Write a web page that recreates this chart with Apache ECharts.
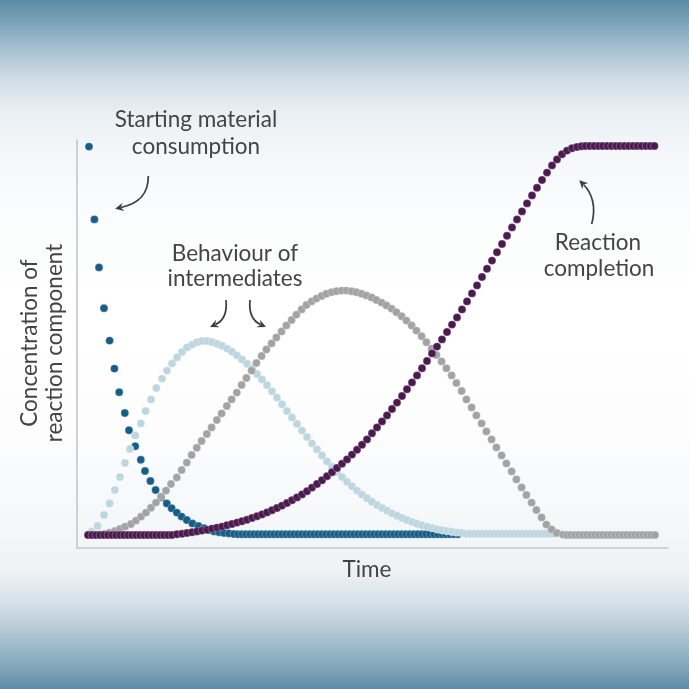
<!DOCTYPE html>
<html>
<head>
<meta charset="utf-8">
<script src="https://cdn.jsdelivr.net/npm/echarts@6/dist/echarts.min.js"></script>
<style>
html,body{margin:0;padding:0;width:689px;height:689px;overflow:hidden;}
#c{width:689px;height:689px;}
</style>
</head>
<body>
<div id="c"></div>
<script>
// [time, concentration] (arbitrary units)
const startingMaterial = [
[0.25,97.1],[1.6,78.9],[2.75,66.9],[4.0,56.7],[5.4,48.6],[6.6,41.6],[7.8,35.7],[9.2,30.5],[10.25,26.2],[11.8,22.2],
[13.2,18.8],[14.25,16.0],[15.6,13.5],[16.9,11.25],[18.3,9.4],[19.7,7.9],[20.9,6.7],[22.2,5.6],[23.4,4.6],[24.7,3.75],
[26.1,2.9],[27.6,2.25],[29.0,1.7],[30.25,1.25],[31.5,0.9],[32.75,0.7],[34.0,0.5],[35.25,0.4],[36.5,0.25],
[37.5,0.2],[38.5,0.2],[39.5,0.2],[40.5,0.2],[41.5,0.2],[42.5,0.2],[43.5,0.2],[44.5,0.2],[45.5,0.2],[46.5,0.2],
[47.5,0.2],[48.5,0.2],[49.5,0.2],[50.5,0.2],[51.5,0.2],[52.5,0.2],[53.5,0.2],[54.5,0.2],[55.5,0.2],[56.5,0.2],
[57.5,0.2],[58.5,0.2],[59.5,0.2],[60.5,0.2],[61.5,0.2],[62.5,0.2],[63.5,0.2],[64.5,0.2],[65.5,0.2],[66.5,0.2],
[67.5,0.2],[68.5,0.2],[69.5,0.2],[70.5,0.2],[71.5,0.2],[72.5,0.2],[73.5,0.2],[74.5,0.2],[75.5,0.2],[76.5,0.2],
[77.5,0.2],[78.5,0.2],[79.5,0.2],[80.5,0.2],[81.5,0.2],[82.5,0.2],[83.5,0.2],[84.5,0.2],[85.5,0.2],[86.5,0.2],
[87.5,0.2],[88.5,0.2],[89.5,0.2],[90.5,0.2],[91.5,0.2],[92.5,0.2]
];
const intermediateA = [
[0.9,0.8],[2.4,2.25],[4.0,5.0],[5.4,7.9],[6.7,11.25],[8.0,14.5],[9.25,18.0],[10.5,21.5],[11.8,24.9],[13.2,27.9],
[14.4,31.0],[15.75,33.9],[17.1,36.75],[18.5,39.1],[19.75,41.1],[21.0,42.9],[22.25,44.4],[23.5,45.75],[24.75,46.9],[26.0,47.6],
[27.25,48.2],[28.5,48.5],[29.75,48.5],[31.0,48.25],[32.25,47.8],[33.5,47.3],[34.75,46.6],[36.0,45.8],[37.25,44.9],[38.5,43.9],
[39.75,42.8],[41.0,41.6],[42.25,40.25],[43.5,38.9],[44.75,37.45],[46.0,35.9],[47.25,34.35],[48.5,32.7],[49.75,31.0],[51.0,29.4],
[52.25,27.75],[53.5,26.1],[54.75,24.5],[56.0,22.9],[57.25,21.4],[58.5,19.9],[59.75,18.4],[61.0,17.05],[62.25,15.75],[63.5,14.5],
[64.75,13.3],[66.0,12.2],[67.25,11.1],[68.5,10.1],[69.75,9.2],[71.0,8.3],[72.25,7.5],[73.5,6.75],[74.75,6.05],[76.0,5.4],
[77.25,4.8],[78.5,4.25],[79.75,3.75],[81.0,3.25],[82.25,2.8],[83.5,2.4],[84.75,2.1],[86.0,1.75],[87.25,1.45],[88.5,1.2],
[89.75,1.0],[91.0,0.8],[92.25,0.65],[93.5,0.5],
[94.5,0.3],[95.5,0.3],[96.5,0.3],[97.5,0.3],[98.5,0.3],[99.5,0.3],[100.5,0.3],[101.5,0.3],[102.5,0.3],[103.5,0.3],
[104.5,0.3],[105.5,0.3],[106.5,0.3],[107.5,0.3],[108.5,0.3],[109.5,0.3],[110.5,0.3],[111.5,0.3],[112.5,0.3],[113.5,0.3],
[114.5,0.3],[115.5,0.3],[116.5,0.3]
];
const intermediateB = [
[0.25,0],[1.5,0],[2.75,0.1],[4.0,0.25],[5.3,0.6],[6.75,1.0],[8.0,1.5],[9.25,2.1],[10.75,2.75],[12.0,3.6],
[13.25,4.6],[14.5,5.6],[15.75,6.8],[17.0,8.1],[18.25,9.6],[19.5,11.1],[20.75,12.75],[22.2,14.4],[23.4,16.25],[24.7,18.1],
[25.9,20.0],[27.2,21.8],[28.4,23.5],[29.7,25.25],[30.9,26.9],[32.2,28.75],[33.4,30.4],[34.7,32.25],[35.9,33.9],[37.2,35.6],
[38.4,37.5],[39.6,39.25],[40.9,41.1],[42.1,43.0],[43.4,44.75],[44.6,46.4],[45.9,47.9],[47.1,49.4],[48.4,50.9],[49.6,52.4],
[50.9,53.75],[52.1,55.1],[53.4,56.4],[54.6,57.5],[55.9,58.4],[57.1,59.1],[58.4,59.75],[59.6,60.3],[60.9,60.7],[62.1,60.95],
[63.4,61.1],[64.6,61.1],[65.9,60.95],[67.1,60.7],[68.4,60.3],[69.6,59.9],[70.9,59.4],[72.1,58.75],[73.4,58.1],[74.6,57.4],
[75.9,56.6],[77.1,55.7],[78.4,54.7],[79.6,53.6],[80.9,52.4],[82.1,51.1],[83.4,49.7],[84.6,48.2],[85.9,46.6],[87.1,45.0],
[88.4,43.4],[89.6,41.7],[90.9,39.9],[92.1,38.0],[93.4,36.0],[94.6,33.9],[95.9,31.9],[97.1,29.9],[98.4,27.9],[99.6,25.9],
[100.9,23.9],[102.1,21.9],[103.4,19.9],[104.6,17.9],[105.9,15.9],[107.1,13.9],[108.4,11.9],[109.6,10.0],[110.9,8.1],[112.1,6.25],
[113.4,4.4],[114.6,2.6],[115.9,1.4],[117.25,0.5],[118.75,0.1],
[119.75,0],[120.75,0],[121.75,0],[122.75,0],[123.75,0],[124.75,0],[125.75,0],[126.75,0],[127.75,0],[128.75,0],
[129.75,0],[130.75,0],[131.75,0],[132.75,0],[133.75,0],[134.75,0],[135.75,0],[136.75,0],[137.75,0],[138.75,0],
[139.75,0],[140.75,0],[141.75,0]
];
const product = [
[0,0],[1,0],[2,0],[3,0],[4,0],[5,0],[6,0],[7,0],[8,0],[9,0],[10,0],[11,0],[12,0],[13,0],[14,0],[15,0],
[16,0],[17,0],[18,0],[19,0],[20,0],[21,0],
[22.25,0.2],[23.5,0.3],[24.75,0.5],[26.0,0.7],[27.25,0.9],[28.5,1.1],[29.75,1.3],[31.0,1.6],[32.25,1.85],[33.5,2.1],
[34.75,2.45],[36.0,2.75],[37.25,3.1],[38.5,3.45],[39.75,3.8],[41.0,4.25],[42.25,4.7],[43.5,5.15],[44.75,5.65],[46.0,6.2],
[47.25,6.75],[48.5,7.35],[49.75,8.0],[51.0,8.7],[52.25,9.4],[53.5,10.15],[54.75,10.95],[56.0,11.85],[57.25,12.75],[58.5,13.7],
[59.75,14.7],[61.0,15.7],[62.25,16.75],[63.5,17.8],[64.75,18.9],[66.0,20.1],[67.25,21.3],[68.5,22.55],[69.75,23.9],[71.0,25.45],
[72.25,26.9],[73.5,28.4],[74.75,29.9],[76.0,31.5],[77.25,33.1],[78.5,34.75],[79.75,36.45],[81.0,38.15],[82.25,39.9],[83.5,41.7],
[84.75,43.5],[86.0,45.4],[87.25,47.1],[88.5,48.9],[89.75,50.75],[91.0,52.6],[92.25,54.4],[93.5,56.4],[94.75,58.4],[96.0,60.4],
[97.25,62.4],[98.5,64.5],[99.75,66.55],[101.0,68.6],[102.25,70.7],[103.5,72.75],[104.75,74.8],[106.0,76.9],[107.25,78.9],[108.5,80.9],
[109.75,82.9],[111.0,84.9],[112.25,86.8],[113.5,88.75],[114.75,90.6],[116.0,92.4],[117.25,93.9],[118.5,95.2],[119.75,96.1],[121.0,96.7],
[122.25,97.0],[123.4,97.2],
[124.4,97.25],[125.5,97.25],[126.6,97.25],[127.7,97.25],[128.7,97.25],[129.8,97.25],[130.9,97.25],[132.0,97.25],[133.0,97.25],
[134.1,97.25],[135.2,97.25],[136.3,97.25],[137.3,97.25],[138.4,97.25],[139.5,97.25],[140.6,97.25],[141.6,97.25]
];

const seriesNames = ['Starting material','Intermediate A','Intermediate B','Product'];
const seriesColors = ['#165d87','#bdd6e0','#a3a3a3','#4b1a4f'];

const chart = echarts.init(document.getElementById('c'), null, {renderer:'canvas'});

const TXT = '#444444';
const FONT = 'Lato, "Open Sans", sans-serif';
const FS = 22.5;

function label(text, x, y, size){
  return {type:'text', x:x, y:y, z:10, style:{text:text, fill:TXT, fontFamily:FONT, fontSize:size||FS, align:'center', verticalAlign:'middle'}};
}
function arrow(p0,c1,c2,e){
  const a = Math.atan2(e[1]-c2[1], e[0]-c2[0]);
  const dx = Math.cos(a), dy = Math.sin(a), nx = -dy, ny = dx;
  const tip = [e[0]+dx*6, e[1]+dy*6];
  const w1 = [e[0]-dx*2.5+nx*4.2, e[1]-dy*2.5+ny*4.2];
  const w2 = [e[0]-dx*2.5-nx*4.2, e[1]-dy*2.5-ny*4.2];
  const nt = [e[0]+dx*0.3, e[1]+dy*0.3];
  return [
    {type:'bezierCurve', z:10, shape:{x1:p0[0],y1:p0[1],cpx1:c1[0],cpy1:c1[1],cpx2:c2[0],cpy2:c2[1],x2:e[0],y2:e[1]},
     style:{stroke:'#3d3d3d', lineWidth:1.7, fill:null}},
    {type:'polygon', z:10, shape:{points:[tip,w1,nt,w2]}, style:{fill:'#3d3d3d'}}
  ];
}

const graphics = [
  label('Starting material',196,119.5),
  label('consumption',196,146.5),
  label('Behaviour of',235,253.5),
  label('intermediates',235,278.5),
  label('Reaction',598,242.5),
  label('completion',599,268.5),
  label('Time',367,570),
  {type:'text', x:30, y:343, rotation:Math.PI/2, z:10, style:{text:'Concentration of', fill:TXT, fontFamily:FONT, fontSize:FS, align:'center', verticalAlign:'middle'}},
  {type:'text', x:55, y:343, rotation:Math.PI/2, z:10, style:{text:'reaction component', fill:TXT, fontFamily:FONT, fontSize:FS, align:'center', verticalAlign:'middle'}}
]
.concat(arrow([148.3,176],[148.5,196],[137,204],[121,207.5]))
.concat(arrow([226,300],[227.5,315],[222,321.5],[215.5,324.5]))
.concat(arrow([250,300],[248.5,315],[254,321.5],[260.5,324.5]))
.concat(arrow([591.7,224],[596.5,207],[592,193],[583.5,184.5]));

const datasets = [startingMaterial, intermediateA, intermediateB, product];

const option = {
  animation:false,
  backgroundColor: new echarts.graphic.LinearGradient(0,0,0,1,[
    {offset:0, color:'#5b8aa5'},
    {offset:0.03, color:'#7aa1b8'},
    {offset:0.073, color:'#a9c2d0'},
    {offset:0.116, color:'#d0dee6'},
    {offset:0.16, color:'#e8eef2'},
    {offset:0.218, color:'#f4f7f9'},
    {offset:0.29, color:'#fafbfc'},
    {offset:0.45, color:'#ffffff'},
    {offset:0.62, color:'#fdfdfe'},
    {offset:0.784, color:'#f3f6f8'},
    {offset:0.827, color:'#eef2f5'},
    {offset:0.856, color:'#e1e9ee'},
    {offset:0.885, color:'#cddbe3'},
    {offset:0.914, color:'#b5cad5'},
    {offset:0.943, color:'#9ab7c7'},
    {offset:0.972, color:'#7fa3b8'},
    {offset:1, color:'#5d8ca7'}
  ]),
  grid:{left:77, right:21, top:140, bottom:141, containLabel:false},
  xAxis:{type:'value', min:-2.75, max:145, axisLine:{show:true, onZero:false, lineStyle:{color:'#c6c6c6', width:1.6}},
         axisTick:{show:false}, axisLabel:{show:false}, splitLine:{show:false}},
  yAxis:{type:'value', min:-3.25, max:98.75, axisLine:{show:true, onZero:false, lineStyle:{color:'#c6c6c6', width:1.6}},
         axisTick:{show:false}, axisLabel:{show:false}, splitLine:{show:false}},
  series: datasets.map((d,i)=>({
    name:seriesNames[i], type:'scatter', data:d, symbol:'circle', symbolSize:7.9,
    itemStyle:{color:seriesColors[i], borderColor:'rgba(255,255,255,0.5)', borderWidth:0.5, opacity:1},
    emphasis:{disabled:true}, silent:true
  })),
  graphic: graphics
};
chart.setOption(option);
</script>
</body>
</html>
